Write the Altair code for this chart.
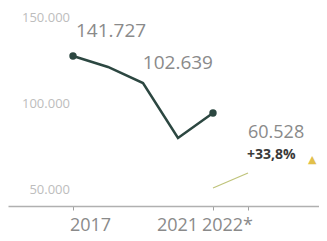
import altair as alt
import pandas as pd

# ---- data ----
years = [2017, 2018, 2019, 2020, 2021]
main_values = [141727, 134200, 123200, 85500, 102639]

thin_years = [2021, 2022]
thin_values = [45240, 60528]

axis_years = [2017, 2021, 2022]
axis_labels = ["2017", "2021", "2022*"]

y_tick_values = [150000, 100000, 50000]
y_tick_labels = ["150.000", "100.000", "50.000"]

label_main_first = "141.727"
label_main_last = "102.639"
label_thin_last = "60.528"
label_change = "+33,8%"

FONT = "Open Sans"

main_df = pd.DataFrame({"year": years, "value": main_values})
ends_df = main_df.iloc[[0, -1]].assign(label=[label_main_first, label_main_last])
thin_df = pd.DataFrame({"year": thin_years, "value": thin_values})
thin_end = thin_df.iloc[[-1]].assign(label=label_thin_last, change=label_change)
ytick_df = pd.DataFrame({"value": y_tick_values, "label": y_tick_labels})

label_expr = " : ".join(
    [f"datum.value == {y} ? '{l}'" for y, l in zip(axis_years[:-1], axis_labels[:-1])]
    + [f"'{axis_labels[-1]}'"]
)

x_enc = alt.X(
    "year:Q",
    scale=alt.Scale(domain=[2015.143, 2024.029], nice=False, zero=False),
    axis=alt.Axis(
        values=axis_years,
        labelExpr=label_expr,
        grid=False,
        title=None,
        domainColor="#b0b0b0",
        domainWidth=1.5,
        tickColor="#a0a0a0",
        tickSize=4,
        labelFont=FONT,
        labelFontSize=18,
        labelColor="#8a8a8a",
        labelPadding=6,
        labelFlush=False,
        labelOverlap=False,
        labelOffset={
            "condition": [
                {"test": "datum.value == 2017", "value": 17},
                {"test": "datum.value == 2021", "value": -36},
            ],
            "value": -21,
        },
    ),
)

scale_main = alt.Scale(domain=[38846, 174649], nice=False, zero=False)
scale_thin = alt.Scale(domain=[26891, 228726], nice=False, zero=False)
scale_ticks = alt.Scale(domain=[40857, 156000], nice=False, zero=False)

y_main = alt.Y("value:Q", scale=scale_main, axis=None)
y_thin = alt.Y("value:Q", scale=scale_thin, axis=None)
y_ticks = alt.Y("value:Q", scale=scale_ticks, axis=None)

line = alt.Chart(main_df).mark_line(color="#2c4741", strokeWidth=2.5).encode(x=x_enc, y=y_main)
pts = alt.Chart(ends_df).mark_point(filled=True, color="#2c4741", size=55, opacity=1).encode(x=x_enc, y=y_main)
lab_first = alt.Chart(ends_df.iloc[[0]]).mark_text(
    align="left", baseline="middle", dx=3, dy=-25, font=FONT, fontSize=19, color="#8a8a8a"
).encode(x=x_enc, y=y_main, text="label:N")
lab_last = alt.Chart(ends_df.iloc[[1]]).mark_text(
    align="right", baseline="middle", dx=0, dy=-50, font=FONT, fontSize=19, color="#8a8a8a"
).encode(x=x_enc, y=y_main, text="label:N")

thin = alt.Chart(thin_df).mark_line(color="#bfc37a", strokeWidth=1.2).encode(x=x_enc, y=y_thin)
thin_lab = alt.Chart(thin_end).mark_text(
    align="left", baseline="middle", dx=0, dy=-40, font=FONT, fontSize=18, color="#8a8a8a"
).encode(x=x_enc, y=y_thin, text="label:N")
thin_chg = alt.Chart(thin_end).mark_text(
    align="left", baseline="middle", dx=-1, dy=-18, font=FONT, fontSize=14, fontWeight="bold", color="#3a3a3a"
).encode(x=x_enc, y=y_thin, text="change:N")
thin_tri = alt.Chart(thin_end).mark_text(
    align="left", baseline="middle", dx=60, dy=-13, font="DejaVu Sans", fontSize=11, color="#e2c04a"
).encode(x=x_enc, y=y_thin, text=alt.value("▲"))

ylabs = alt.Chart(ytick_df).mark_text(
    align="right", baseline="middle", font=FONT, fontSize=13, color="#bdbdbd"
).encode(x=alt.value(62), y=y_ticks, text="label:N")

chart = (
    alt.layer(ylabs, line, pts, lab_first, lab_last, thin, thin_lab, thin_chg, thin_tri)
    .resolve_scale(y="independent")
    .properties(width=311, height=198, padding=0)
    .configure_view(stroke=None)
)

chart.save("out.html", embed_options={"renderer": "svg", "actions": False})
